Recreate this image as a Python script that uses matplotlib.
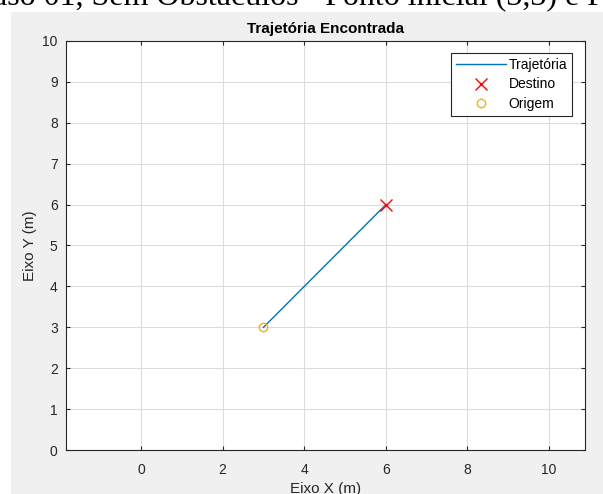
import matplotlib.pyplot as plt
from matplotlib.patches import Rectangle

# trajectory data
traj_x = [3, 6]
traj_y = [3, 6]
destino = (6, 6)
origem = (3, 3)
xticks = [0, 2, 4, 6, 8, 10]
yticks = list(range(0, 11))

plt.rcParams['font.family'] = ['Liberation Sans', 'DejaVu Sans']

W, H = 603, 494
fig = plt.figure(figsize=(W / 100, H / 100), dpi=100, facecolor='white')

# gray matlab figure background (starts a bit below/right of the image corner)
fig.patches.append(Rectangle((11 / W, 0), 1, (H - 12) / H, transform=fig.transFigure,
                             facecolor='#f0f0f0', edgecolor='none', zorder=-10))

# cut-off caption of the document above the figure
fig.text(-7 / W, 1 - 5 / H, 'aso 01, Sem Obstáculos - Ponto inicial (3,3) e P',
         family='Liberation Serif', fontsize=23, va='baseline', ha='left')

ax = fig.add_axes([66 / W, 44 / H, (585 - 66) / W, (450 - 41) / H])
ax.set_facecolor('white')

ax.plot(traj_x, traj_y, color='#0072BD', lw=1, label='Trajetória')
ax.plot(*destino, 'x', color='#FF0000', ms=8, mew=1, label='Destino', ls='none')
ax.plot(*origem, 'o', color='#EDB120', mfc='none', ms=6, mew=1, label='Origem', ls='none')

ax.set_xlim(-1.84, 10.88)
ax.set_ylim(0, 10)
ax.set_xticks(xticks)
ax.set_yticks(yticks)
ax.grid(True, color='#dcdcdc', lw=0.8)
ax.set_axisbelow(True)
ax.tick_params(direction='in', length=3, width=0.8, colors='#262626',
               labelsize=10, top=True, right=True, pad=6)
ax.tick_params(axis='x', pad=9)
for s in ax.spines.values():
    s.set_color('#262626')
    s.set_linewidth(0.8)

ax.set_title('Trajetória Encontrada', fontsize=11, fontweight='bold', color='#000000', pad=6)
ax.set_xlabel('Eixo X (m)', fontsize=11, color='#262626', labelpad=4)
ax.set_ylabel('Eixo Y (m)', fontsize=11, color='#262626', labelpad=4)

leg = ax.legend(loc='upper right', fontsize=10, frameon=True, fancybox=False,
                edgecolor='#262626', framealpha=1, handlelength=3.6,
                handletextpad=0.2, borderpad=0.35, labelspacing=0.4,
                borderaxespad=0, bbox_to_anchor=((572 - 66) / 519, (450 - 53) / 409))
leg.get_frame().set_linewidth(0.8)

fig.savefig('out.png', dpi=100)
